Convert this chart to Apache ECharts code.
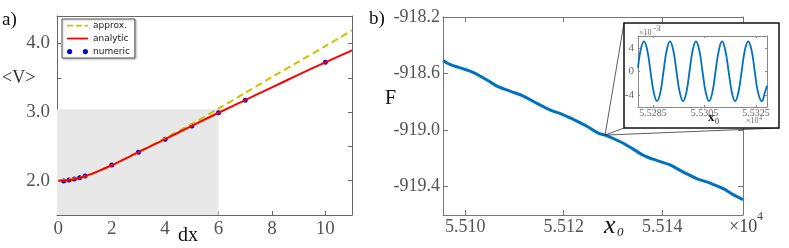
<!DOCTYPE html>
<html><head><meta charset="utf-8">
<script src="https://cdn.jsdelivr.net/npm/echarts@6/dist/echarts.min.js"></script>
<style>html,body{margin:0;padding:0;background:#fff}#c{width:789px;height:248px}</style>
</head><body><div id="c"></div>
<script>
// ---------- Panel a data ----------
const dxAnalytic = [0, 0.5, 1, 1.5, 2, 3, 4, 5, 6, 7, 8, 9, 10, 11];
const vAnalytic  = [2.0, 2.015, 2.065, 2.14, 2.225, 2.415, 2.605, 2.80, 2.99, 3.175, 3.36, 3.545, 3.725, 3.90];
const dxApprox   = [0, 1, 2, 3, 4, 5, 6, 7, 8, 9, 10, 11];
const vApprox    = [2.0, 2.065, 2.225, 2.42, 2.62, 2.83, 3.05, 3.28, 3.51, 3.735, 3.96, 4.19];
const dxNumeric  = [0.2, 0.4, 0.6, 0.8, 1, 2, 3, 4, 5, 6, 7, 10];
const vNumeric   = [1.995, 2.01, 2.025, 2.043, 2.068, 2.228, 2.416, 2.604, 2.797, 2.99, 3.174, 3.725];
const shadeX = [-0.05, 6];
const shadeY = [1.5, 3.04];
const aXTicks = [0, 2, 4, 6, 8, 10];
const aYTicks = [2, 2.5, 3, 3.5, 4];
const aYLabels = [2, 3, 4];
const legendNames = ['approx.', 'analytic', 'numeric'];

// ---------- Panel b data ----------
const x0Main = [55095.5, 55097.0, 55099.0, 55101.6, 55104.5, 55106.7, 55109.1, 55111.8, 55114.6, 55117.3,
  55119.7, 55121.9, 55124.8, 55127.0, 55128.4, 55131.5, 55133.5, 55136.1, 55139.0, 55141.6,
  55144.3, 55147.1, 55149.7, 55152.4, 55154.4, 55156.4];
const fMain = [-918.507, -918.537, -918.560, -918.591, -918.647, -918.693, -918.724, -918.759, -918.811, -918.858,
  -918.888, -918.923, -918.974, -919.021, -919.035, -919.082, -919.121, -919.176, -919.216, -919.246,
  -919.297, -919.344, -919.374, -919.414, -919.456, -919.491];
const bXTicks = [55100, 55120, 55140];
const bYTicks = [-919.4, -919.0, -918.6, -918.2];
const zoomAnchor = [55128.4, -919.035];

// inset (F residual, units of 1e-3)
const x0Inset = [55279.2, 55280.2, 55281.5, 55282.8, 55284.05, 55285.3, 55286.6, 55287.9, 55289.1, 55290.35,
  55291.6, 55292.9, 55294.15, 55295.4, 55296.7, 55298.0, 55299.2, 55300.45, 55301.7, 55303.0,
  55304.25, 55305.5, 55306.8, 55308.1, 55309.3, 55310.6, 55311.85, 55313.1, 55314.4, 55315.65,
  55316.9, 55318.2, 55319.45, 55320.7, 55322.0, 55323.3, 55324.55, 55325.8, 55327.3, 55328.5, 55329.3];
const fInset = [0.6, 3.6, 5.1, 3.6, 0, -3.5, -5.0, -3.5, 0, 3.6,
  5.1, 3.6, 0, -3.5, -5.0, -3.5, 0, 3.6, 5.1, 3.6,
  0, -3.5, -5.0, -3.5, 0, 3.6, 5.1, 3.6, 0, -3.5,
  -5.0, -3.5, 0, 3.6, 5.1, 3.6, 0, -3.5, -5.0, -3.5, -2.4];
const insetXTicks = [55285, 55305, 55325];
const insetYTicks = [-4, 0, 4];

// ---------- layout ----------
const SERIF = 'Liberation Serif';
const gA = {left: 57, top: 16, width: 295, height: 199};
const gB = {left: 443, top: 17, width: 300, height: 198};
const gI = {left: 638, top: 36, width: 129, height: 71};
const boxPad = {l: 14, t: 13, r: 12, b: 21};

const zip = (a, b) => a.map((v, i) => [v, b[i]]);
const frameLine = (c, w) => ({show: true, onZero: false, lineStyle: {color: c, width: w || 1}});

const chart = echarts.init(document.getElementById('c'), null, {renderer: 'canvas'});

const option = {
  animation: false,
  backgroundColor: '#fff',
  grid: [
    Object.assign({}, gA, {containLabel: false}),
    Object.assign({}, gB, {containLabel: false}),
    Object.assign({}, gI, {containLabel: false})
  ],
  legend: {
    left: 62, top: 19, orient: 'vertical',
    itemWidth: 21, itemHeight: 8, itemGap: 4,
    padding: [2, 5, 2, 5],
    borderColor: '#555', borderWidth: 1, backgroundColor: '#fff',
    shadowColor: 'rgba(0,0,0,0.25)', shadowBlur: 2, shadowOffsetX: 1, shadowOffsetY: 1,
    textStyle: {fontFamily: 'DejaVu Sans', fontSize: 9, color: '#222'},
    data: [
      {name: legendNames[0], icon: 'path://M0,0h7v2h-7z M10,0h7v2h-7z M20,0h4v2h-4z'},
      {name: legendNames[1], icon: 'path://M0,0h24v2h-24z'},
      {name: legendNames[2], icon: 'path://M2,3a2.5,2.5 0 1,0 5,0a2.5,2.5 0 1,0 -5,0 M17,3a2.5,2.5 0 1,0 5,0a2.5,2.5 0 1,0 -5,0'}
    ]
  },
  xAxis: [
    {gridIndex: 0, type: 'value', min: shadeX[0], max: 11,
      axisLine: frameLine('#666'), splitLine: {show: false},
      axisTick: {show: true, inside: true, length: 4, customValues: aXTicks, lineStyle: {color: '#666'}},
      axisLabel: {customValues: aXTicks, fontFamily: SERIF, fontSize: 19, color: '#555', margin: 5}},
    {gridIndex: 0, type: 'value', position: 'top', min: shadeX[0], max: 11,
      axisLine: frameLine('#666'), splitLine: {show: false}, axisTick: {show: false}, axisLabel: {show: false}},
    {gridIndex: 1, type: 'value', min: 55095.5, max: 55156.4,
      axisLine: frameLine('#777'), splitLine: {show: false},
      axisTick: {show: true, inside: true, length: 5, customValues: bXTicks, lineStyle: {color: '#777'}},
      axisLabel: {customValues: bXTicks, formatter: v => (v / 1e4).toFixed(3), fontFamily: SERIF, fontSize: 18, color: '#555', margin: 3}},
    {gridIndex: 1, type: 'value', position: 'top', min: 55095.5, max: 55156.4,
      axisLine: frameLine('#777'), splitLine: {show: false},
      axisTick: {show: true, inside: true, length: 5, customValues: bXTicks, lineStyle: {color: '#777'}},
      axisLabel: {show: false}},
    {gridIndex: 2, type: 'value', min: 55279.2, max: 55329.3, z: 12,
      axisLine: frameLine('#888'), splitLine: {show: false},
      axisTick: {show: true, inside: true, length: 2, customValues: insetXTicks, lineStyle: {color: '#888'}},
      axisLabel: {customValues: insetXTicks, formatter: v => (v / 1e4).toFixed(4), fontFamily: SERIF, fontSize: 10, color: '#666', margin: 1}},
    {gridIndex: 2, type: 'value', position: 'top', min: 55279.2, max: 55329.3, z: 12,
      axisLine: frameLine('#888'), splitLine: {show: false},
      axisTick: {show: true, inside: true, length: 2, customValues: insetXTicks, lineStyle: {color: '#888'}},
      axisLabel: {show: false}}
  ],
  yAxis: [
    {gridIndex: 0, type: 'value', min: 1.5, max: 4.4,
      axisLine: frameLine('#666'), splitLine: {show: false},
      axisTick: {show: true, inside: true, length: 4, customValues: aYTicks, lineStyle: {color: '#666'}},
      axisLabel: {customValues: aYLabels, formatter: v => v.toFixed(1), fontFamily: SERIF, fontSize: 19, color: '#555', margin: 7}},
    {gridIndex: 0, type: 'value', position: 'right', min: 1.5, max: 4.4,
      axisLine: frameLine('#666'), splitLine: {show: false},
      axisTick: {show: true, inside: true, length: 4, customValues: aYTicks, lineStyle: {color: '#666'}},
      axisLabel: {show: false}},
    {gridIndex: 1, type: 'value', min: -919.6, max: -918.2,
      axisLine: frameLine('#777'), splitLine: {show: false},
      axisTick: {show: true, inside: true, length: 5, customValues: bYTicks, lineStyle: {color: '#777'}},
      axisLabel: {customValues: bYTicks, formatter: v => v.toFixed(1), fontFamily: SERIF, fontSize: 18, color: '#555', margin: 3}},
    {gridIndex: 1, type: 'value', position: 'right', min: -919.6, max: -918.2,
      axisLine: frameLine('#777'), splitLine: {show: false},
      axisTick: {show: true, inside: true, length: 5, customValues: bYTicks, lineStyle: {color: '#777'}},
      axisLabel: {show: false}},
    {gridIndex: 2, type: 'value', min: -6, max: 6, z: 12,
      axisLine: frameLine('#888'), splitLine: {show: false},
      axisTick: {show: true, inside: true, length: 2, customValues: insetYTicks, lineStyle: {color: '#888'}},
      axisLabel: {customValues: insetYTicks, fontFamily: SERIF, fontSize: 11, color: '#666', margin: 4}},
    {gridIndex: 2, type: 'value', position: 'right', min: -6, max: 6, z: 12,
      axisLine: frameLine('#888'), splitLine: {show: false},
      axisTick: {show: true, inside: true, length: 2, customValues: insetYTicks, lineStyle: {color: '#888'}},
      axisLabel: {show: false}}
  ],
  series: [
    {name: legendNames[0], type: 'line', xAxisIndex: 0, yAxisIndex: 0, data: zip(dxApprox, vApprox),
      smooth: 0.3, symbol: 'none', color: '#c9c400', lineStyle: {color: '#c9c400', width: 2, type: [7, 4]},
      markArea: {silent: true, itemStyle: {color: '#e8e8e8'},
        data: [[{coord: [shadeX[0], shadeY[0]]}, {coord: [shadeX[1], shadeY[1]]}]]}},
    {name: legendNames[1], type: 'line', xAxisIndex: 0, yAxisIndex: 0, data: zip(dxAnalytic, vAnalytic),
      smooth: 0.3, symbol: 'none', color: '#ff0000', lineStyle: {color: '#ff0000', width: 2}},
    {name: legendNames[2], type: 'scatter', xAxisIndex: 0, yAxisIndex: 0, data: zip(dxNumeric, vNumeric),
      symbol: 'circle', symbolSize: 5, color: '#0000d8', itemStyle: {color: '#0000d8', opacity: 1}},
    {name: 'F', type: 'line', xAxisIndex: 2, yAxisIndex: 2, data: zip(x0Main, fMain),
      smooth: 0.35, symbol: 'none', color: '#0072BD', lineStyle: {color: '#0072BD', width: 3}},
    {name: 'Finset', type: 'line', xAxisIndex: 4, yAxisIndex: 4, data: zip(x0Inset, fInset), z: 13,
      smooth: 0.45, symbol: 'none', color: '#0072BD', lineStyle: {color: '#0072BD', width: 1.8}}
  ]
};
chart.setOption(option);

const txt = (id, x, y, text, font, fill) => ({
  id: id, type: 'text', z: 20, x: x, y: y,
  style: {text: text, font: font, fill: fill || '#111', align: 'left', verticalAlign: 'middle'}
});

const boxX = gI.left - boxPad.l, boxY = gI.top - boxPad.t;
const boxW = gI.width + boxPad.l + boxPad.r, boxH = gI.height + boxPad.t + boxPad.b;
const p = chart.convertToPixel({xAxisIndex: 2, yAxisIndex: 2}, zoomAnchor);
const lineStyle = {stroke: '#333', lineWidth: 0.8};

chart.setOption({
  graphic: [
    {id: 'l1', type: 'line', z: 9, shape: {x1: p[0], y1: p[1], x2: boxX, y2: boxY}, style: lineStyle},
    {id: 'l2', type: 'line', z: 9, shape: {x1: p[0], y1: p[1], x2: boxX, y2: boxY + boxH}, style: lineStyle},
    {id: 'l3', type: 'line', z: 9, shape: {x1: p[0], y1: p[1], x2: boxX + boxW, y2: boxY + boxH}, style: lineStyle},
    {id: 'box', type: 'rect', z: 10, shape: {x: boxX, y: boxY, width: boxW, height: boxH},
      style: {fill: '#fff', stroke: '#111', lineWidth: 1.5}},
    txt('ta', 2, 20, 'a)', '19px ' + SERIF),
    txt('tV', 2, 78, '<V>', '18px ' + SERIF, '#333'),
    txt('tdx', 178, 236, 'dx', '20px ' + SERIF),
    txt('tb', 369, 19, 'b)', '19px ' + SERIF),
    txt('tF', 385, 99, 'F', '20px ' + SERIF),
    // main x0 label
    txt('tx', 604, 226, 'x', 'italic 26px ' + SERIF),
    txt('tx0s', 617, 233, '0', 'italic 13px ' + SERIF),
    // main ×10^4
    txt('tm1', 729, 227, '×10', '18px ' + SERIF, '#444'),
    txt('tm2', 757, 217, '4', '12px ' + SERIF, '#444'),
    // inset ×10^-3
    txt('ti1', 639, 33, '×10', '8px ' + SERIF, '#666'),
    txt('ti2', 653, 29, '-3', '9px ' + SERIF, '#666'),
    // inset x0
    txt('tix', 708, 118, 'x', 'bold 13px ' + SERIF),
    txt('tix0', 715, 122, '0', '8px ' + SERIF),
    // inset ×10^4
    txt('tj1', 746, 121, '×10', '8px ' + SERIF, '#666'),
    txt('tj2', 759, 118, '4', '6px ' + SERIF, '#666')
  ]
});
</script>
</body></html>
